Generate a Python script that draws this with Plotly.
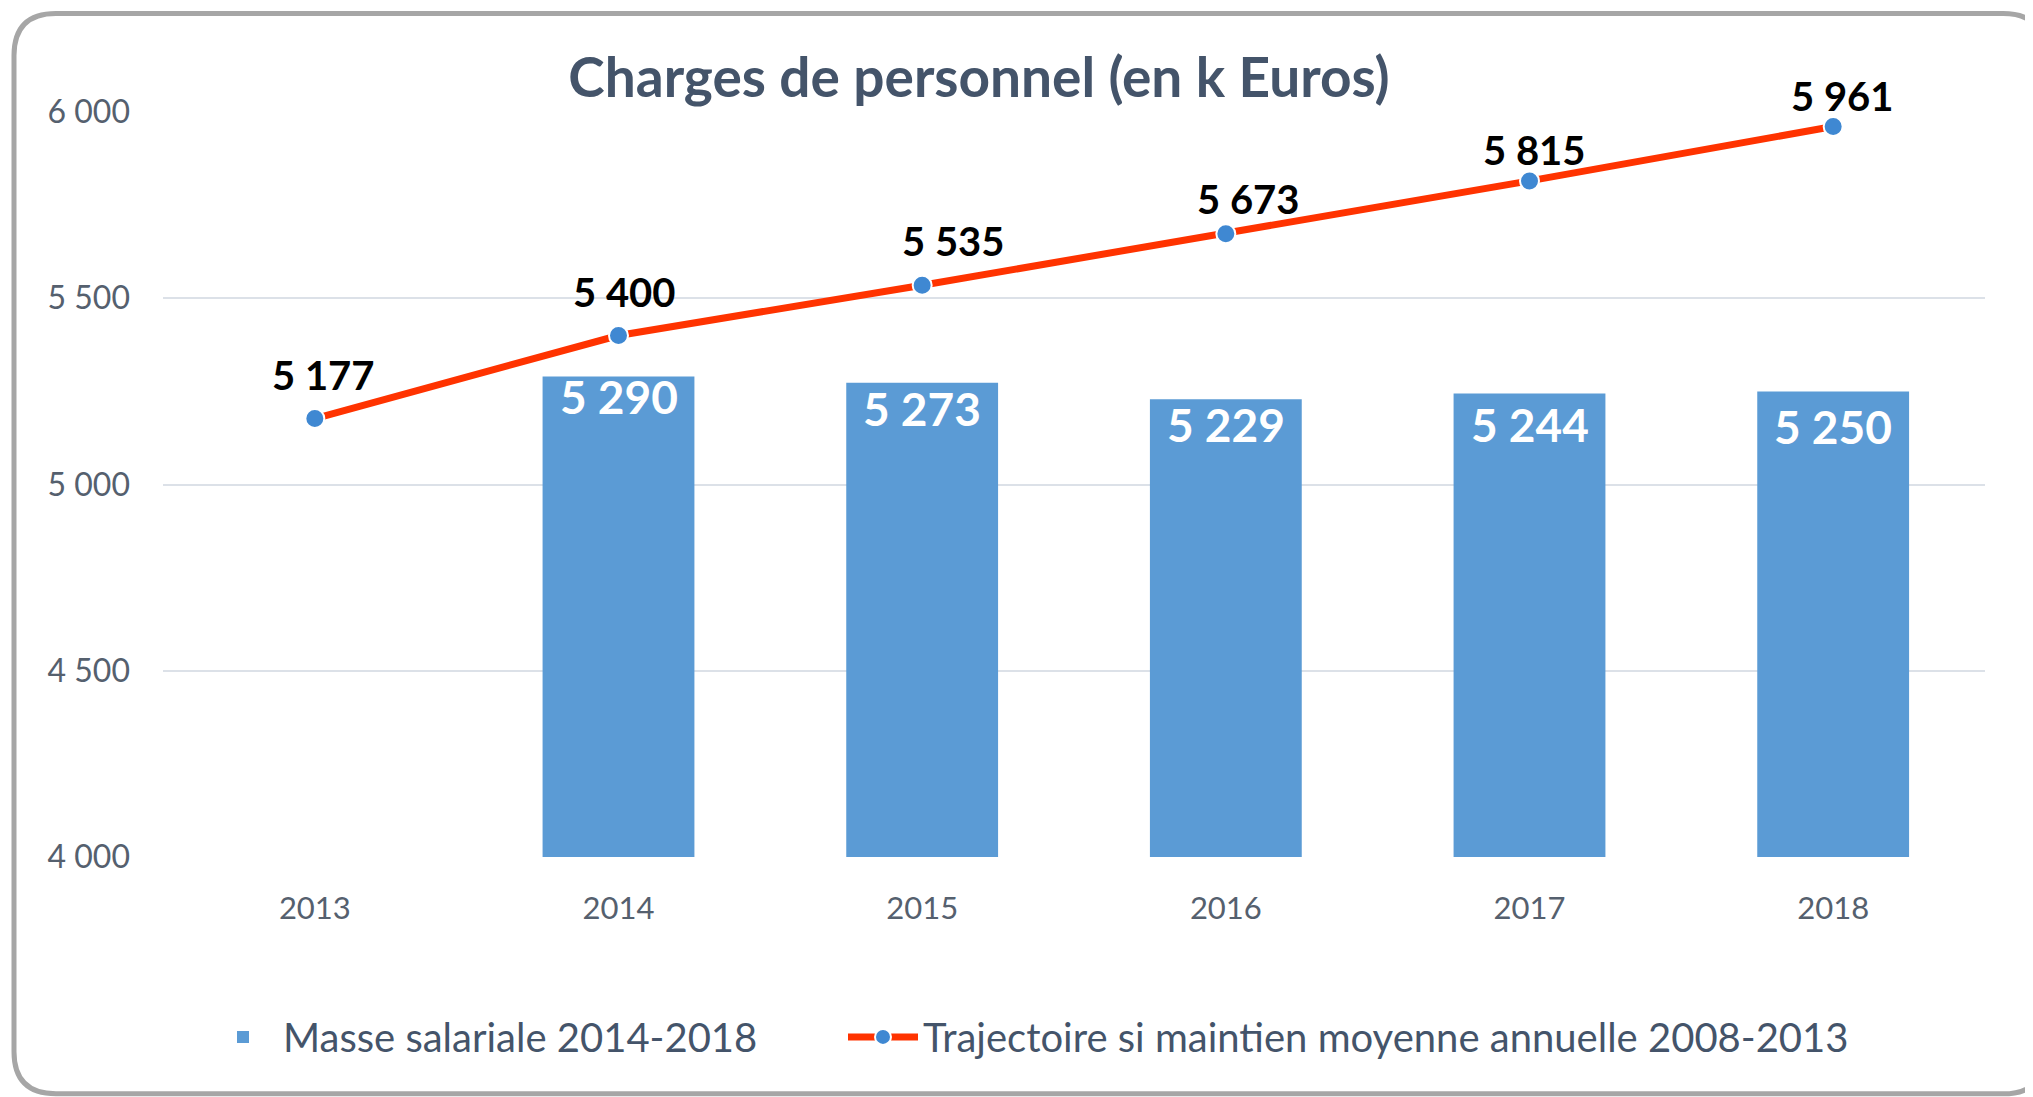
import plotly.graph_objects as go

years = ["2013", "2014", "2015", "2016", "2017", "2018"]
bar_years = ["2014", "2015", "2016", "2017", "2018"]
masse_salariale = [5290, 5273, 5229, 5244, 5250]
trajectoire = [5177, 5400, 5535, 5673, 5815, 5961]
y_ticks = [4000, 4500, 5000, 5500, 6000]

title_text = "Charges de personnel (en k Euros)"
bar_name = "Masse salariale 2014-2018"
line_name = "Trajectoire si maintien moyenne annuelle 2008-2013"

# label placement (style, pixels)
line_label_dx = [9, 6, 31, 23, 5, 9]
line_label_dy = [18, 18, 18, 9, 5, 5]
bar_label_dy = [20, 26, 25, 31, 35]

# page body has an 8px margin: work in screen pixels and shift
OFF = 8
W, H = 2033 - OFF, 1097 - OFF
L, R, T, B = 163, 1985, 111.5, 857  # plot area, screen pixels

FONT = "Lato"
SLATE = "#44546A"
TICK = "#55606E"


def fmt(v):
    return f"{v:,}".replace(",", " ")


fig = go.Figure()
fig.add_trace(go.Bar(
    x=bar_years, y=masse_salariale, name=bar_name,
    marker=dict(color="#5B9BD5", line=dict(width=0)),
    width=0.5, cliponaxis=True, legend="legend",
))
fig.add_trace(go.Scatter(
    x=years, y=trajectoire, name=line_name, mode="lines+markers",
    line=dict(color="#FF3300", width=7),
    marker=dict(color="#3F88D2", size=19, line=dict(color="white", width=2)),
    cliponaxis=False, legend="legend2",
))

for i, v in enumerate(trajectoire):
    fig.add_annotation(
        x=i, y=v, text=fmt(v), showarrow=False,
        yanchor="bottom", yshift=line_label_dy[i], xshift=line_label_dx[i],
        font=dict(family=FONT, size=40, color="black", weight="bold"),
    )

for j, (yr, v) in enumerate(zip(bar_years, masse_salariale)):
    fig.add_annotation(
        x=years.index(yr), y=v, text=fmt(v), showarrow=False,
        yanchor="middle", yshift=-bar_label_dy[j],
        font=dict(family=FONT, size=46, color="white", weight="bold"),
    )


def px(x):
    return (x - L) / (R - L)


def py(y):
    return (B - y) / (B - T)


x0, y0, x1, y1, r = 14, 13, 2045, 1094, 42
path = (
    f"M{px(x0 + r)},{py(y0)} L{px(x1 - r)},{py(y0)} Q{px(x1)},{py(y0)} {px(x1)},{py(y0 + r)} "
    f"L{px(x1)},{py(y1 - r)} Q{px(x1)},{py(y1)} {px(x1 - r)},{py(y1)} "
    f"L{px(x0 + r)},{py(y1)} Q{px(x0)},{py(y1)} {px(x0)},{py(y1 - r)} "
    f"L{px(x0)},{py(y0 + r)} Q{px(x0)},{py(y0)} {px(x0 + r)},{py(y0)} Z"
)
fig.add_shape(type="path", path=path, xref="paper", yref="paper",
              line=dict(color="#A6A6A6", width=5), fillcolor="rgba(0,0,0,0)", layer="below")

legend_common = dict(orientation="h", xanchor="left", y=py(1037), yanchor="middle",
                     font=dict(family=FONT, size=40, color=SLATE),
                     itemwidth=70, bgcolor="rgba(0,0,0,0)")

fig.update_layout(
    width=W, height=H,
    margin=dict(l=L - OFF, r=W - (R - OFF), t=T - OFF, b=H - (B - OFF), pad=0, autoexpand=False),
    paper_bgcolor="white", plot_bgcolor="white",
    separators=", ",
    font=dict(family=FONT, color=SLATE),
    title=dict(text=title_text, x=(979 - OFF) / W, xanchor="center", xref="container",
               y=1 - (78 - OFF) / H, yanchor="middle", yref="container",
               font=dict(family=FONT, size=55, color=SLATE, weight="bold")),
    xaxis=dict(type="category", categoryorder="array", categoryarray=years,
               range=[-0.5, len(years) - 0.5],
               showgrid=False, showline=False, zeroline=False, ticks="",
               tickfont=dict(family=FONT, size=31, color=TICK), ticklabelstandoff=30),
    yaxis=dict(range=[4000, 6000], tickvals=y_ticks, tickformat=",d",
               showgrid=True, gridcolor="#DCE1E8", gridwidth=1.5, zeroline=False,
               showline=False, ticks="",
               tickfont=dict(family=FONT, size=32, color=TICK), ticklabelstandoff=32),
    showlegend=True,
    legend=dict(x=px(203), **legend_common),
    legend2=dict(x=px(843), **legend_common),
)

fig.write_html("out.html")
